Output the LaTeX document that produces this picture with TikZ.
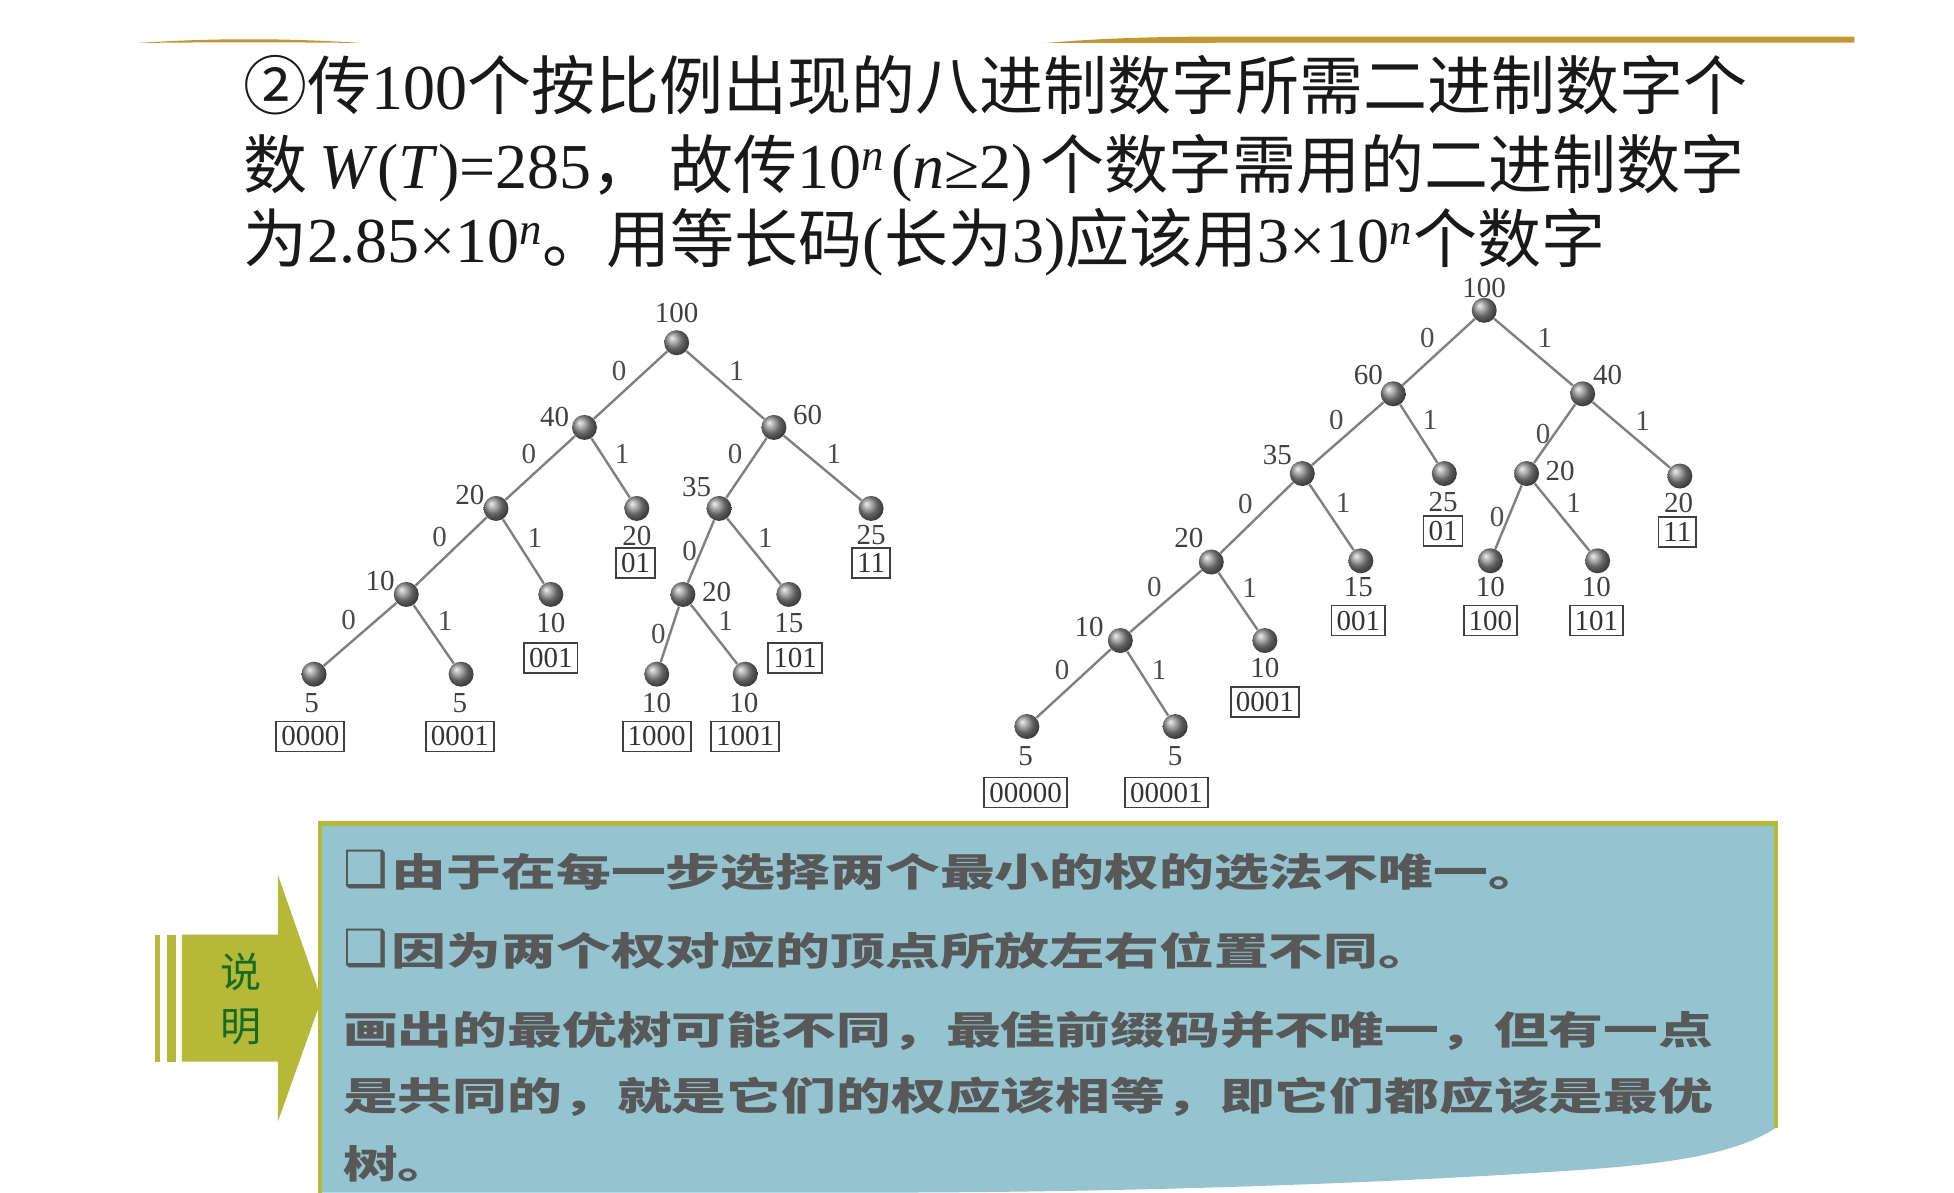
\documentclass[tikz,border=0pt]{standalone}
\usepackage{fontspec}
\usepackage{xcolor}
\setmainfont{Liberation Serif}
\newfontfamily\cjk{Noto Sans CJK SC}
\newfontfamily\cjkwide[FakeStretch=1.42]{Noto Sans CJK SC}
\newfontfamily\symfont{DejaVu Sans}
\definecolor{gold}{RGB}{196,152,44}
\definecolor{olive}{RGB}{182,184,56}
\definecolor{panel}{RGB}{148,196,208}
\definecolor{note}{RGB}{22,108,36}
\definecolor{ink}{RGB}{88,88,88}
\newcommand{\HL}{\fontsize{32}{38}\selectfont}
\newcommand{\TL}{\fontsize{14.5}{17}\selectfont}
\newcommand{\BL}{\cjkwide\fontsize{19.3}{24}\selectfont\bfseries}
\newcommand{\BOX}{{\symfont\fontsize{25}{24}\selectfont ❑}\hspace{2pt}}

\begin{document}
\begin{tikzpicture}[x=0.6231pt,y=-0.6231pt]
\tikzstyle{head}=[anchor=base west,inner sep=0pt,font=\HL,text=black!90]
\tikzstyle{ball}=[circle,minimum size=12.5pt,inner sep=0pt,shading=ball,ball color=black!45]
\tikzstyle{wt}=[font=\TL,text=black!75,inner sep=1pt]
\tikzstyle{bit}=[font=\TL,text=black!70,inner sep=1.5pt]
\tikzstyle{code}=[draw=black!75,line width=0.9pt,font=\TL,text=black!80,inner xsep=2.5pt,inner ysep=0pt,minimum height=15pt]
\tikzstyle{edge}=[black!50,line width=1.2pt]
\tikzstyle{texto}=[anchor=base west,inner sep=0pt,font=\BL,text=ink]

\useasboundingbox (0,0) rectangle (1568,957);

% gold rules at the top
\fill[gold] (110,34.5) .. controls (170,30.5) and (230,30.5) .. (290,34.5) .. controls (230,33.8) and (170,33.8) .. cycle;
\fill[gold] (839,34.5) .. controls (880,31) and (920,29.5) .. (980,29.3) -- (1488,29.3) -- (1488,34.3) -- (980,34.3) .. controls (920,34.4) and (880,34.5) .. cycle;

% heading
\node[head] (t1) at (195,88) {{\cjk ②传}100{\cjk 个按比例出现的八进制数字所需二进制数字个}};
\node[head] (t2) at (195,151) {{\cjk 数}\hspace{6pt}\textit{W}(\textit{T})=285{\cjk ，}\hspace{7pt}{\cjk 故传}10\textsuperscript{\textit{n}}\hspace{3pt}(\textit{n}≥2)\hspace{4pt}{\cjk 个数字需用的二进制数字}};
\node[head] (t3) at (195,211) {{\cjk 为}2.85×10\textsuperscript{\textit{n}}{\cjk 。用等长码}({\cjk 长为}3){\cjk 应该用}3×10\textsuperscript{\textit{n}}{\cjk 个数字}};

% left tree
\node[ball] (A) at (543,275) {};
\node[ball] (B) at (469,343) {};
\node[ball] (C) at (621,343) {};
\node[ball] (D) at (398,408) {};
\node[ball] (E) at (511,408) {};
\node[ball] (F) at (577,408) {};
\node[ball] (G) at (699,408) {};
\node[ball] (H) at (326,477) {};
\node[ball] (I) at (442,477) {};
\node[ball] (J) at (548,477) {};
\node[ball] (K) at (633,477) {};
\node[ball] (L) at (252,541) {};
\node[ball] (M) at (370,541) {};
\node[ball] (N) at (527,541) {};
\node[ball] (O) at (598,541) {};

\draw[edge] (A) -- node[bit,above left]{0} (B);
\draw[edge] (A) -- node[bit,above right]{1} (C);
\draw[edge] (B) -- node[bit,above left]{0} (D);
\draw[edge] (B) -- node[bit,above right]{1} (E);
\draw[edge] (C) -- node[bit,above left]{0} (F);
\draw[edge] (C) -- node[bit,above right]{1} (G);
\draw[edge] (D) -- node[bit,above left]{0} (H);
\draw[edge] (D) -- node[bit,above right]{1} (I);
\draw[edge] (F) -- node[bit,left]{0} (J);
\draw[edge] (F) -- node[bit,above right]{1} (K);
\draw[edge] (H) -- node[bit,above left]{0} (L);
\draw[edge] (H) -- node[bit,above right]{1} (M);
\draw[edge] (J) -- node[bit,left]{0} (N);
\draw[edge] (J) -- node[bit,above right]{1} (O);

\node[wt] (wA) at (543,251) {100};
\node[wt] (wB) at (445,335) {40};
\node[wt] (wC) at (648,333) {60};
\node[wt] (wD) at (377,397) {20};
\node[wt] (wF) at (559,391) {35};
\node[wt] (wH) at (305,466) {10};
\node[wt] (wJ) at (575,475) {20};
\node[wt] (wE) at (511,430) {20};
\node[code] (cE) at (510,452) {01};
\node[wt] (wG) at (699,429) {25};
\node[code] (cG) at (699,452) {11};
\node[wt] (wI) at (442,500) {10};
\node[code] (cI) at (442,528) {001};
\node[wt] (wK) at (633,500) {15};
\node[code] (cK) at (638,528) {101};
\node[wt] (wL) at (250,564) {5};
\node[code] (cL) at (249,591) {0000};
\node[wt] (wM) at (369,564) {5};
\node[code] (cM) at (369,591) {0001};
\node[wt] (wN) at (527,564) {10};
\node[code] (cN) at (527,591) {1000};
\node[wt] (wO) at (597,564) {10};
\node[code] (cO) at (598,591) {1001};

% right tree
\node[ball] (a) at (1191,249) {};
\node[ball] (b) at (1118,316) {};
\node[ball] (c) at (1270,316) {};
\node[ball] (d) at (1045,380) {};
\node[ball] (e) at (1159,380) {};
\node[ball] (f) at (1225,380) {};
\node[ball] (g) at (1348,382) {};
\node[ball] (h) at (972,451) {};
\node[ball] (i) at (1092,450) {};
\node[ball] (j) at (1196,450) {};
\node[ball] (k) at (1282,450) {};
\node[ball] (l) at (899,514) {};
\node[ball] (m) at (1015,514) {};
\node[ball] (n) at (824,583) {};
\node[ball] (o) at (943,583) {};

\draw[edge] (a) -- node[bit,above left]{0} (b);
\draw[edge] (a) -- node[bit,above right]{1} (c);
\draw[edge] (b) -- node[bit,above left]{0} (d);
\draw[edge] (b) -- node[bit,above right]{1} (e);
\draw[edge] (c) -- node[bit,left]{0} (f);
\draw[edge] (c) -- node[bit,above right]{1} (g);
\draw[edge] (d) -- node[bit,above left]{0} (h);
\draw[edge] (d) -- node[bit,above right]{1} (i);
\draw[edge] (f) -- node[bit,left]{0} (j);
\draw[edge] (f) -- node[bit,above right]{1} (k);
\draw[edge] (h) -- node[bit,above left]{0} (l);
\draw[edge] (h) -- node[bit,above right]{1} (m);
\draw[edge] (l) -- node[bit,above left]{0} (n);
\draw[edge] (l) -- node[bit,above right]{1} (o);

\node[wt,inner sep=0.3pt] (wa) at (1191,231.5) {100};
\node[wt] (wb) at (1098,301) {60};
\node[wt] (wc) at (1290,301) {40};
\node[wt] (wd) at (1025,365) {35};
\node[wt] (wf) at (1252,378) {20};
\node[wt] (wh) at (954,432) {20};
\node[wt] (wl) at (874,503) {10};
\node[wt] (we) at (1158,403) {25};
\node[code] (ce) at (1158,426) {01};
\node[wt] (wg) at (1347,404) {20};
\node[code] (cg) at (1346,427) {11};
\node[wt] (wi) at (1090,471) {15};
\node[code] (ci) at (1090,498) {001};
\node[wt] (wj) at (1196,471) {10};
\node[code] (cj) at (1196,498) {100};
\node[wt] (wk) at (1281,471) {10};
\node[code] (ck) at (1281,498) {101};
\node[wt] (wm) at (1015,536) {10};
\node[code] (cm) at (1015,563) {0001};
\node[wt] (wn) at (823,607) {5};
\node[code] (cn) at (823,636) {00000};
\node[wt] (wo) at (943,607) {5};
\node[code] (co) at (936,636) {00001};

% note panel
\fill[panel] (257,662) -- (1425,662) -- (1425,905) .. controls (1390,928) and (1330,935) .. (1250,940) .. controls (1100,950) and (900,957) .. (700,957) -- (257,957) -- cycle;
\draw[olive,line width=2.5pt] (255,661) -- (1427,661);
\draw[olive,line width=1.8pt] (257,661) -- (257,957);
\draw[olive,line width=1.8pt] (1425,661) -- (1425,905);

% arrow tag
\fill[olive] (124,750) rectangle (128,852);
\fill[olive] (134,750) rectangle (141,852);
\fill[olive] (146,750) -- (223,750) -- (223,702) -- (258,802) -- (223,900) -- (223,852) -- (146,852) -- cycle;
\node[font=\cjk\fontsize{20.5}{27}\selectfont,text=note,align=center,inner sep=0pt] (tag) at (193,802) {说\\明};

\node[texto] (s1) at (275,711) {\BOX 由于在每一步选择两个最小的权的选法不唯一。};
\node[texto] (s2) at (275,775) {\BOX 因为两个权对应的顶点所放左右位置不同。};
\node[texto] (s3) at (275,838) {画出的最优树可能不同，最佳前缀码并不唯一，但有一点};
\node[texto] (s4) at (275,891) {是共同的，就是它们的权应该相等，即它们都应该是最优};
\node[texto] (s5) at (275,946) {树。};
\end{tikzpicture}
\end{document}
